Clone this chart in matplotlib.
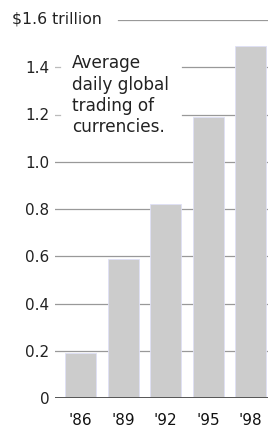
import matplotlib.pyplot as plt

years = ["'86", "'89", "'92", "'95", "'98"]
trading = [0.19, 0.59, 0.82, 1.19, 1.49]
yticks = [0, 0.2, 0.4, 0.6, 0.8, 1.0, 1.2, 1.4]
ylabels = ['0', '0.2', '0.4', '0.6', '0.8', '1.0', '1.2', '1.4']

plt.rcParams['font.family'] = ['DejaVu Sans']

fig = plt.figure(figsize=(2.68, 4.30), dpi=100)
ax = fig.add_axes([55 / 268, 1 - 398 / 430, 213 / 268, 378 / 430])

x = range(len(years))
ax.bar(x, trading, width=0.73, color='#cccccc', edgecolor='#dfe0f6', linewidth=0.6, zorder=2)

# gridlines, some broken where the labels sit
for v in yticks[1:]:
    if v in (1.2, 1.4):
        ax.axhline(v, xmin=0, xmax=0.025, color='#bbbbbb', lw=0.9, zorder=1)
        ax.axhline(v, xmin=0.596, xmax=1, color='#999999', lw=0.9, zorder=1)
    else:
        ax.axhline(v, color='#999999', lw=0.9, zorder=1)
ax.axhline(1.6, xmin=0.296, xmax=1, color='#999999', lw=0.9, zorder=1)
ax.axhline(0, color='#555555', lw=1.4, zorder=3)

ax.set_xlim(-0.6, 4.41)
ax.set_ylim(0, 1.6)
ax.set_yticks(yticks)
ax.set_yticklabels(ylabels)
ax.set_xticks(list(x))
ax.set_xticklabels(years)
ax.tick_params(axis='y', length=0, pad=4, labelsize=11, labelcolor='#222222')
ax.tick_params(axis='x', length=0, pad=11, labelsize=11, labelcolor='#111111')
for s in ax.spines.values():
    s.set_visible(False)

fig.text(12 / 268, 1 - 19 / 430, '$1.6 trillion', ha='left', va='center',
         fontsize=11.3, color='#222222')
fig.text(72 / 268, 1 - 54 / 430, 'Average\ndaily global\ntrading of\ncurrencies.',
         ha='left', va='top', fontsize=12.2, color='#222222', linespacing=1.25)

fig.savefig('out.png', dpi=100)
